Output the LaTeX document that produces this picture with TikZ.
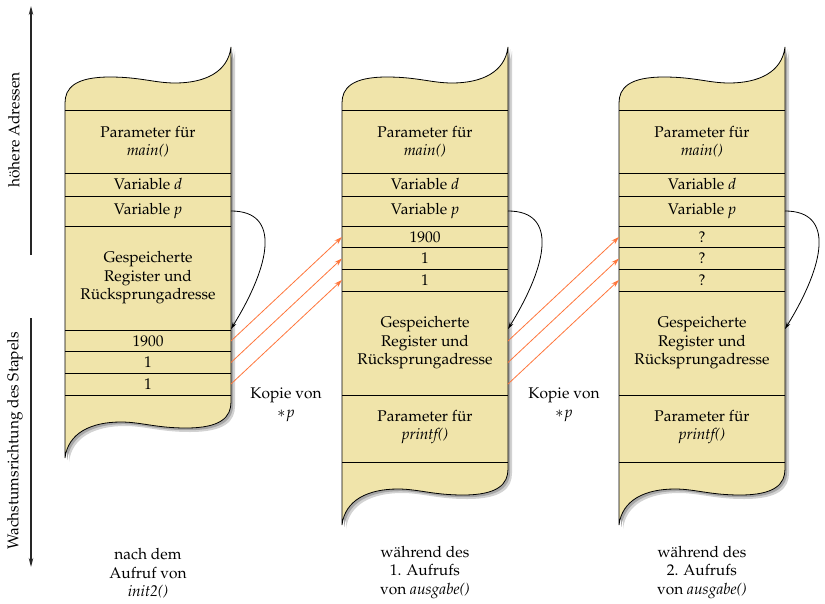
\documentclass[tikz,border=0pt]{standalone}
\usepackage[T1]{fontenc}
\usepackage{mathpazo}
\usetikzlibrary{arrows.meta}
\definecolor{stackfill}{RGB}{240,228,170}
\definecolor{copyorange}{RGB}{255,118,60}
\newcommand\cellfont{\fontsize{15.5}{18.5}\selectfont}
\begin{document}
\begin{tikzpicture}[x=1pt,y=-1pt,
  every node/.style={font=\cellfont,inner sep=0pt,align=center},
  outline/.style={fill=stackfill,draw=black,line width=0.8pt},
  divider/.style={line width=0.8pt},
  copyarrow/.style={draw=copyorange,line width=0.8pt,-{Stealth[length=8pt,width=5pt]}},
  ptrarrow/.style={draw=black,line width=0.8pt,-{Stealth[length=7pt,width=4pt]}},
  axisarrow/.style={draw=black!85,line width=1.3pt,-{Stealth[length=9pt,width=4.5pt]}}]
\useasboundingbox (0,0) rectangle (825,603);

% stacks: shadows, outlines
\foreach \x/\yb in {65/395,342/462,619/462}{
  \fill[gray!35,shift={(4,4)}] (\x,110) -- (\x,103) .. controls (\x,88) and (\x+10,77) .. (\x+45,77) .. controls (\x+75,77) and (\x+90,83) .. (\x+110,83) .. controls (\x+140,83) and (\x+163,72) .. (\x+166,47) -- (\x+166,\yb+7) .. controls (\x+166,\yb+22) and (\x+156,\yb+33) .. (\x+121,\yb+33) .. controls (\x+91,\yb+33) and (\x+76,\yb+27) .. (\x+56,\yb+27) .. controls (\x+26,\yb+27) and (\x+3,\yb+38) .. (\x,\yb+63) -- cycle;
  \fill[gray!70,shift={(2.2,2.2)}] (\x,110) -- (\x,103) .. controls (\x,88) and (\x+10,77) .. (\x+45,77) .. controls (\x+75,77) and (\x+90,83) .. (\x+110,83) .. controls (\x+140,83) and (\x+163,72) .. (\x+166,47) -- (\x+166,\yb+7) .. controls (\x+166,\yb+22) and (\x+156,\yb+33) .. (\x+121,\yb+33) .. controls (\x+91,\yb+33) and (\x+76,\yb+27) .. (\x+56,\yb+27) .. controls (\x+26,\yb+27) and (\x+3,\yb+38) .. (\x,\yb+63) -- cycle;
  \path[outline] (\x,110) -- (\x,103) .. controls (\x,88) and (\x+10,77) .. (\x+45,77) .. controls (\x+75,77) and (\x+90,83) .. (\x+110,83) .. controls (\x+140,83) and (\x+163,72) .. (\x+166,47) -- (\x+166,\yb+7) .. controls (\x+166,\yb+22) and (\x+156,\yb+33) .. (\x+121,\yb+33) .. controls (\x+91,\yb+33) and (\x+76,\yb+27) .. (\x+56,\yb+27) .. controls (\x+26,\yb+27) and (\x+3,\yb+38) .. (\x,\yb+63) -- cycle;
}
% dividers
\foreach \y in {110,173,196,226,330,351.7,373.3,395}
  \draw[divider] (65,\y) -- (231,\y);
\foreach \x in {342,619}
  \foreach \y in {110,173,196,226,247.7,269.3,291,395,462}
    \draw[divider] (\x,\y) -- (\x+166,\y);

% stack 1 texts
\node (a1) at (148,141.5) {Parameter f\"ur\\\textit{main()}};
\node (a2) at (148,184.5) {Variable \textit{d}};
\node (a3) at (148,211) {Variable \textit{p}};
\node (a4) at (148,278) {Gespeicherte\\Register und\\R\"ucksprungadresse};
\node (a5) at (148,341) {1900};
\node (a6) at (148,362.5) {1};
\node (a7) at (148,384) {1};
% stack 2 texts
\node (b1) at (425,141.5) {Parameter f\"ur\\\textit{main()}};
\node (b2) at (425,184.5) {Variable \textit{d}};
\node (b3) at (425,211) {Variable \textit{p}};
\node (b4) at (425,237) {1900};
\node (b5) at (425,258.5) {1};
\node (b6) at (425,280) {1};
\node (b7) at (425,343) {Gespeicherte\\Register und\\R\"ucksprungadresse};
\node (b8) at (425,427) {Parameter f\"ur\\\textit{printf()}};
% stack 3 texts
\node (c1) at (702,141.5) {Parameter f\"ur\\\textit{main()}};
\node (c2) at (702,184.5) {Variable \textit{d}};
\node (c3) at (702,211) {Variable \textit{p}};
\node (c4) at (702,237) {?};
\node (c5) at (702,258.5) {?};
\node (c6) at (702,280) {?};
\node (c7) at (702,343) {Gespeicherte\\Register und\\R\"ucksprungadresse};
\node (c8) at (702,427) {Parameter f\"ur\\\textit{printf()}};

% captions
\node (cap1) at (148,573.5) {nach dem\\Aufruf von\\\textit{init2()}};
\node (cap2) at (425,572.5) {w\"ahrend des\\1. Aufrufs\\von \textit{ausgabe()}};
\node (cap3) at (702,572.5) {w\"ahrend des\\2. Aufrufs\\von \textit{ausgabe()}};
\node (k1) at (286,395) {Kopie von};
\node (k1p) at (286,416) {$\ast p$};
\node (k2) at (564,395) {Kopie von};
\node (k2p) at (564,416) {$\ast p$};

% axis
\node[rotate=90] (hi) at (14,130) {h\"ohere Adressen};
\node[rotate=90] (grow) at (15,441) {Wachstumsrichtung des Stapels};
\coordinate (hiA) at (31,255);
\coordinate (hiB) at (31,6);
\coordinate (grA) at (31,318);
\coordinate (grB) at (31,567);
\draw[axisarrow] (hiA) -- (hiB);
\draw[axisarrow] (grA) -- (grB);

% connector anchors
\coordinate (p1) at (231,211);
\coordinate (t1) at (231,329);
\coordinate (p2) at (508,211);
\coordinate (t2) at (508,329);
\coordinate (p3) at (785,211);
\coordinate (t3) at (785,329);
\draw[ptrarrow] (p1) .. controls +(50,0) and +(40,-65) .. (t1);
\draw[ptrarrow] (p2) .. controls +(50,0) and +(40,-65) .. (t2);
\draw[ptrarrow] (p3) .. controls +(50,0) and +(40,-65) .. (t3);

\coordinate (s1a) at (231,341);
\coordinate (s1b) at (231,362.5);
\coordinate (s1c) at (231,384);
\coordinate (s2a) at (342,237);
\coordinate (s2b) at (342,258.5);
\coordinate (s2c) at (342,280);
\coordinate (s2x) at (508,341);
\coordinate (s2y) at (508,362.5);
\coordinate (s2z) at (508,384);
\coordinate (s3a) at (619,237);
\coordinate (s3b) at (619,258.5);
\coordinate (s3c) at (619,280);
\draw[copyarrow] (s1a) -- (s2a);
\draw[copyarrow] (s1b) -- (s2b);
\draw[copyarrow] (s1c) -- (s2c);
\draw[copyarrow] (s2x) -- (s3a);
\draw[copyarrow] (s2y) -- (s3b);
\draw[copyarrow] (s2z) -- (s3c);
\end{tikzpicture}
\end{document}
